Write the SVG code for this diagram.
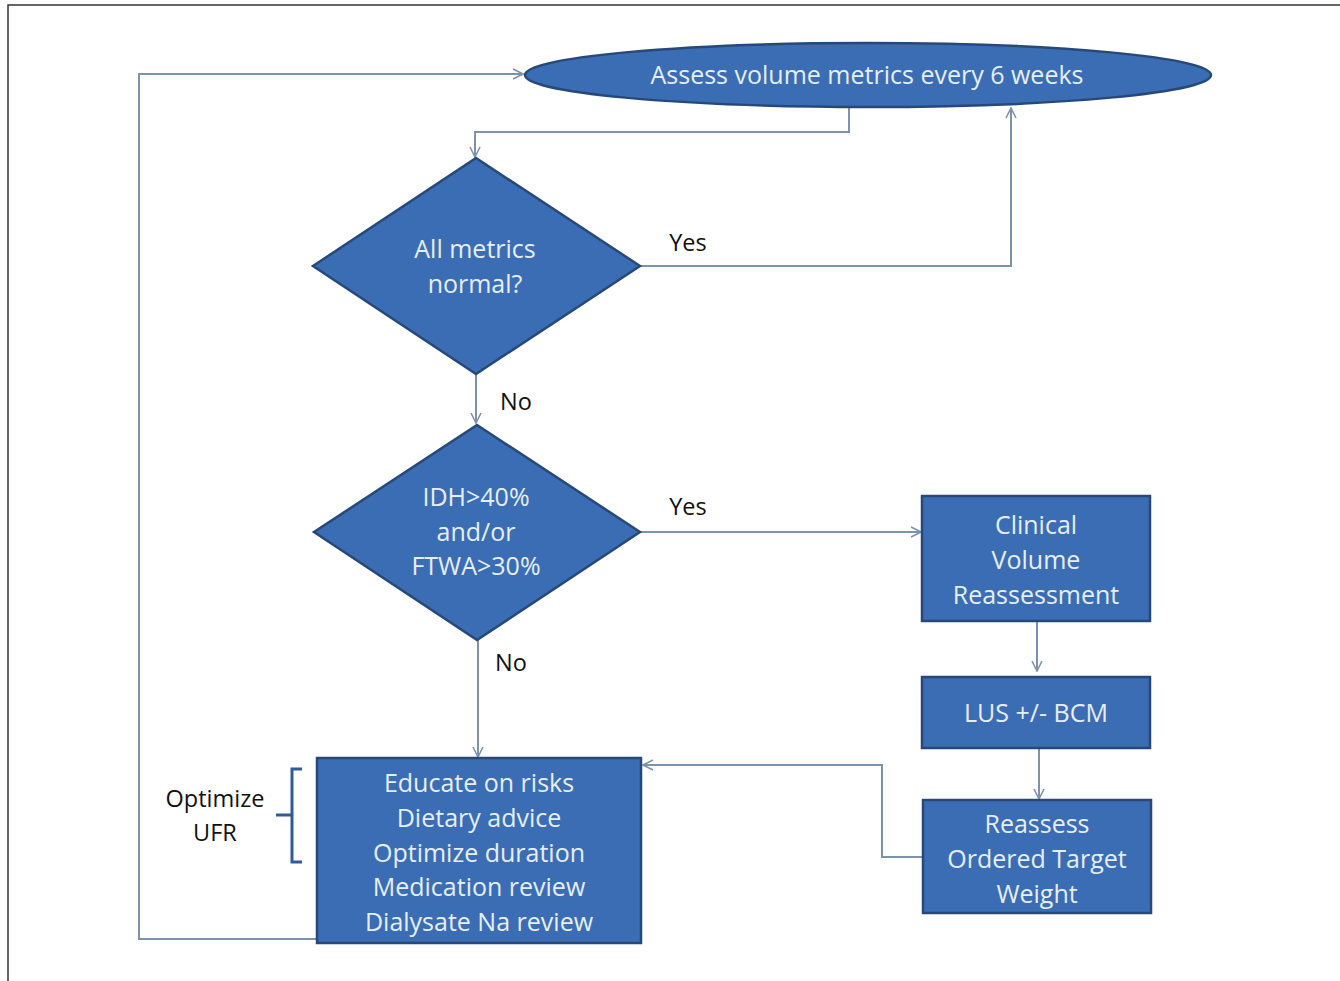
<svg xmlns="http://www.w3.org/2000/svg" width="1340" height="981" viewBox="0 0 1340 981">
<style>
.n{fill:#3b6db4;stroke:#27497a;stroke-width:2.5}
.t{font-family:"Open Sans","Liberation Sans",sans-serif;font-size:25px;fill:#e6eef9;text-anchor:middle}
.l{font-family:"Open Sans","Liberation Sans",sans-serif;font-size:23.5px;fill:#111;text-anchor:middle}
.c{fill:none;stroke:#7d93ad;stroke-width:2}
</style>
<defs>
<marker id="a" viewBox="0 0 12 12" refX="11" refY="6" markerWidth="12" markerHeight="12" markerUnits="userSpaceOnUse" orient="auto">
<path d="M1,1 L11,6 L1,11" fill="none" stroke="#7d93ad" stroke-width="1.6"/>
</marker>
</defs>
<rect width="1340" height="981" fill="#fff"/>
<path d="M8,981 V5 H1340" fill="none" stroke="#333" stroke-width="1.5"/>
<g id="connectors">
<path class="c" d="M317,939 H139 V74 H523" marker-end="url(#a)"/>
<path class="c" d="M849,107 V132 H475 V157" marker-end="url(#a)"/>
<path class="c" d="M640,266 H1011 V108" marker-end="url(#a)"/>
<path class="c" d="M476,374 V423" marker-end="url(#a)"/>
<path class="c" d="M640,532 H921" marker-end="url(#a)"/>
<path class="c" d="M478,640 V757" marker-end="url(#a)"/>
<path class="c" d="M1037,621 V671" marker-end="url(#a)"/>
<path class="c" d="M1039,748 V799" marker-end="url(#a)"/>
<path class="c" d="M923,857 H882 V765 H643" marker-end="url(#a)"/>
<text class="l" x="688" y="251">Yes</text>
<text class="l" x="516" y="410">No</text>
<text class="l" x="688" y="515">Yes</text>
<text class="l" x="511" y="671">No</text>
</g>
<g id="assess">
<ellipse class="n" cx="868" cy="75" rx="343" ry="32"/>
<text class="t" x="867" y="84">Assess volume metrics every 6 weeks</text>
</g>
<g id="allnormal">
<polygon class="n" points="476,158 640,266 476,374 313,266"/>
<text class="t" x="475" y="258">All metrics</text>
<text class="t" x="475" y="293">normal?</text>
</g>
<g id="idh">
<polygon class="n" points="477,425 640,532 477,640 314,532"/>
<text class="t" x="476" y="506">IDH&gt;40%</text>
<text class="t" x="476" y="541">and/or</text>
<text class="t" x="476" y="575">FTWA&gt;30%</text>
</g>
<g id="clinical">
<rect class="n" x="922" y="496" width="228" height="125"/>
<text class="t" x="1036" y="534">Clinical</text>
<text class="t" x="1036" y="569">Volume</text>
<text class="t" x="1036" y="604">Reassessment</text>
</g>
<g id="lus">
<rect class="n" x="922" y="677" width="228" height="71"/>
<text class="t" x="1036" y="722">LUS +/- BCM</text>
</g>
<g id="reassess">
<rect class="n" x="923" y="800" width="228" height="113"/>
<text class="t" x="1037" y="833">Reassess</text>
<text class="t" x="1037" y="868">Ordered Target</text>
<text class="t" x="1037" y="903">Weight</text>
</g>
<g id="actions">
<rect class="n" x="317" y="758" width="324" height="185"/>
<text class="t" x="479" y="792">Educate on risks</text>
<text class="t" x="479" y="827">Dietary advice</text>
<text class="t" x="479" y="862">Optimize duration</text>
<text class="t" x="479" y="896">Medication review</text>
<text class="t" x="479" y="931">Dialysate Na review</text>
</g>
<g id="optimize">
<path d="M302,769 H292 V862 H302 M292,815 H276" fill="none" stroke="#2e5c9a" stroke-width="3"/>
<text class="l" x="215" y="807">Optimize</text>
<text class="l" x="215" y="841">UFR</text>
</g>
</svg>
